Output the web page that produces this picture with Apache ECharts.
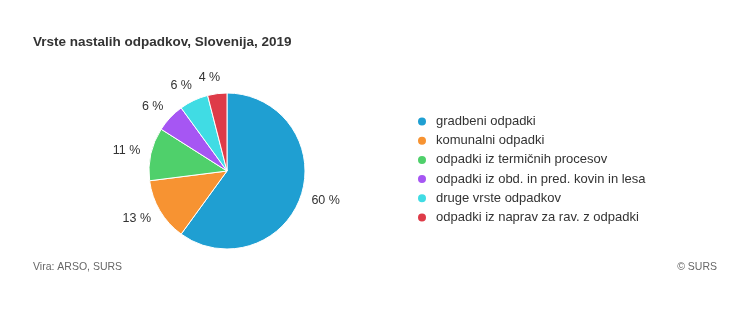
<!DOCTYPE html>
<html><head><meta charset="utf-8">
<script src="https://cdn.jsdelivr.net/npm/echarts@6/dist/echarts.min.js"></script>
<style>html,body{margin:0;padding:0;background:#fff}#c{width:750px;height:335px}</style>
</head><body><div id="c"></div>
<script>
const categories = ['gradbeni odpadki','komunalni odpadki','odpadki iz termičnih procesov','odpadki iz obd. in pred. kovin in lesa','druge vrste odpadkov','odpadki iz naprav za rav. z odpadki'];
const values = [60, 13, 11, 6, 6, 4];
const colors = ['#1f9fd2','#f79332','#4fd06b','#a656f3','#40dce4','#de3b48'];
const chart = echarts.init(document.getElementById('c'));
const ff = 'Liberation Sans, Arial, sans-serif';
chart.setOption({
  animation: false,
  color: colors,
  title: [
    {text: 'Vrste nastalih odpadkov, Slovenija, 2019', left: 33, top: 35, padding: 0, textStyle: {fontFamily: ff, fontSize: 13.5, fontWeight: 'bold', color: '#333'}},
    {text: 'Vira: ARSO, SURS', left: 33, top: 262, padding: 0, textStyle: {fontFamily: ff, fontSize: 10.5, fontWeight: 'normal', color: '#666'}},
    {text: '© SURS', right: 33, top: 262, padding: 0, textStyle: {fontFamily: ff, fontSize: 10.5, fontWeight: 'normal', color: '#666'}}
  ],
  legend: {
    orient: 'vertical', left: 411, top: 110, icon: 'circle', itemWidth: 10, itemHeight: 10, itemGap: 6.2,
    textStyle: {fontFamily: ff, fontSize: 13, color: '#333', padding: [0, 0, 0, 4]},
    data: categories
  },
  series: [{
    type: 'pie', center: [227, 171], radius: 78, startAngle: 90, clockwise: true,
    avoidLabelOverlap: false,
    itemStyle: {borderColor: '#fff', borderWidth: 1},
    label: {show: true, position: 'outside', formatter: '{c} %', fontFamily: ff, fontSize: 12.5, color: '#333', distanceToLabelLine: 0},
    labelLine: {show: false, length: 16, length2: -5},
    data: categories.map((n, i) => ({name: n, value: values[i]}))
  }]
});
</script></body></html>
